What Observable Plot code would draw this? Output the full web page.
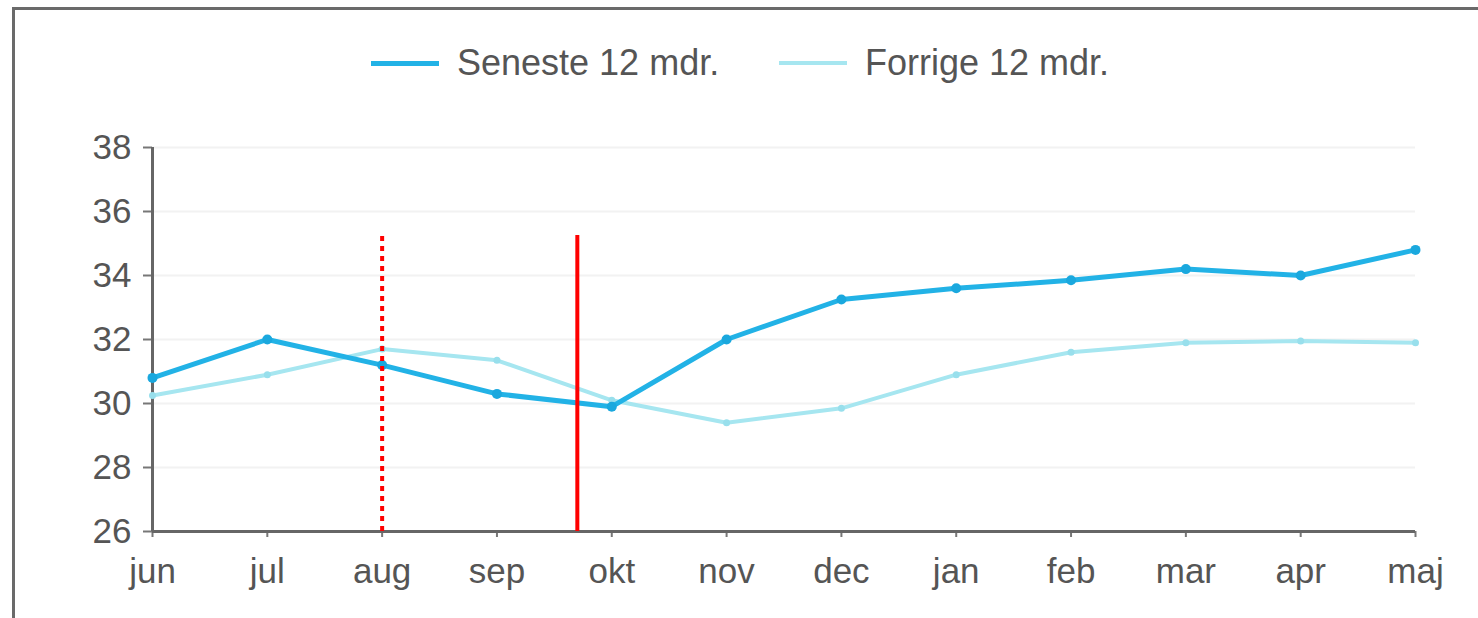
<!DOCTYPE html>
<html>
<head>
<meta charset="utf-8">
<script src="https://cdn.jsdelivr.net/npm/d3@7"></script>
<script src="https://cdn.jsdelivr.net/npm/@observablehq/plot@0.6"></script>
<style>
  html, body { margin: 0; padding: 0; background: #fff; }
  body { width: 1478px; height: 618px; overflow: hidden; position: relative; font-family: "Liberation Sans", Arial, sans-serif; }
  #frame { position: absolute; left: 12px; top: 7px; width: 1500px; height: 700px; border-top: 3px solid #6a6a6a; border-left: 3px solid #6a6a6a; box-sizing: border-box; pointer-events: none; }
  #legend { position: relative; height: 110px; width: 1478px; }
  .item { position: absolute; top: 43px; height: 40px; display: flex; align-items: center; color: #555; font-size: 36px; }
  .sw { display: inline-block; width: 68px; margin-right: 18px; }
  #chart { position: relative; }
</style>
</head>
<body>
<div id="frame"></div>
<div id="legend">
  <div class="item" style="left:371px"><span class="sw" style="height:5px;background:#22b2e6"></span>Seneste 12 mdr.</div>
  <div class="item" style="left:779px"><span class="sw" style="height:4px;background:#a6e6f0"></span>Forrige 12 mdr.</div>
</div>
<div id="chart"></div>
<script>
const months = ["jun","jul","aug","sep","okt","nov","dec","jan","feb","mar","apr","maj"];
const seneste = [30.8, 32.0, 31.2, 30.3, 29.9, 32.0, 33.25, 33.6, 33.85, 34.2, 34.0, 34.8];
const forrige = [30.25, 30.9, 31.7, 31.35, 30.1, 29.4, 29.85, 30.9, 31.6, 31.9, 31.95, 31.9];
const yTicks = [26, 28, 30, 32, 34, 36, 38];
const dottedMarker = [{x: 2, y1: 26, y2: 35.25}];
const solidMarker = [{x: 3.7, y1: 26, y2: 35.25}];

const sen = months.map((m, i) => ({i, v: seneste[i]}));
const forr = months.map((m, i) => ({i, v: forrige[i]}));

const chart = Plot.plot({
  width: 1478,
  height: 508,
  marginTop: 37,
  marginBottom: 87,
  marginLeft: 152,
  marginRight: 63,
  style: {fontFamily: "'Liberation Sans', Arial, sans-serif", fontSize: "35px", color: "#555", background: "transparent"},
  x: {type: "linear", domain: [0, 11], axis: null},
  y: {domain: [26, 38], axis: null},
  marks: [
    Plot.ruleY(yTicks.slice(1), {stroke: "#f2f2f2", strokeWidth: 2}),
    Plot.axisY({ticks: yTicks, tickSize: 9, tickPadding: 12, stroke: "#777", fill: "#555", fontSize: 35, strokeWidth: 2}),
    Plot.axisX({ticks: d3.range(12), tickFormat: i => months[i], tickSize: 6, tickPadding: 21, stroke: "#777", fill: "#555", fontSize: 35, strokeWidth: 2}),
    Plot.ruleX([0], {y1: 26, y2: 38, stroke: "#666", strokeWidth: 3}),
    Plot.ruleY([26], {x1: 0, x2: 11, stroke: "#666", strokeWidth: 3}),
    Plot.line(forr, {x: "i", y: "v", stroke: "#a6e6f0", strokeWidth: 4}),
    Plot.dot(forr, {x: "i", y: "v", r: 3.5, fill: "#98dfec"}),
    Plot.line(sen, {x: "i", y: "v", stroke: "#22b2e6", strokeWidth: 5}),
    Plot.dot(sen, {x: "i", y: "v", r: 5, fill: "#1aa8de"}),
    Plot.ruleX(dottedMarker, {x: "x", y1: "y1", y2: "y2", stroke: "#ff0000", strokeWidth: 4, strokeDasharray: "5,5"}),
    Plot.ruleX(solidMarker, {x: "x", y1: "y1", y2: "y2", stroke: "#ff0000", strokeWidth: 4})
  ]
});
document.getElementById("chart").appendChild(chart);
</script>
</body>
</html>
